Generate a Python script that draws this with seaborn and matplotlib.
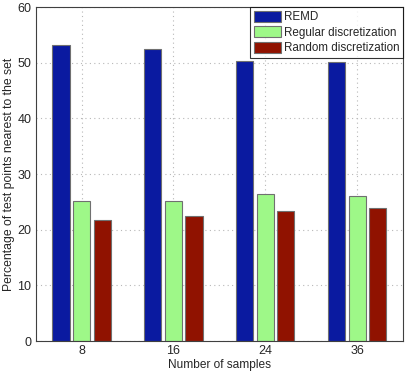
import pandas as pd
import matplotlib
matplotlib.use("Agg")
import matplotlib.pyplot as plt
import seaborn as sns

# data
samples = ["8", "16", "24", "36"]
methods = ["REMD", "Regular discretization", "Random discretization"]
remd = [53.2, 52.5, 50.4, 50.2]
regular = [25.1, 25.1, 26.4, 26.0]
random_disc = [21.8, 22.5, 23.4, 24.0]

df = pd.DataFrame({
    "samples": samples * 3,
    "method": [m for m in methods for _ in samples],
    "value": remd + regular + random_disc,
})

sns.set_style("white")
plt.rcParams["font.family"] = ["Liberation Sans", "DejaVu Sans"]

palette = {"REMD": "#0A1AA0", "Regular discretization": "#9EF888",
           "Random discretization": "#901200"}

fig = plt.figure(figsize=(4.09, 3.72), dpi=100)
ax = fig.add_axes([0.087, 0.083, 0.899, 0.898])
sns.barplot(data=df, x="samples", y="value", hue="method", order=samples,
            hue_order=methods, palette=palette, width=0.67, gap=0.17,
            edgecolor="#707070", linewidth=0.8, saturation=1, ax=ax)

ax.set_ylim(0, 60)
ax.set_xlim(-0.5, 3.5)
ax.set_yticks(range(0, 61, 10))
ax.set_xlabel("Number of samples", fontsize=8.6, labelpad=1)
ax.set_ylabel("Percentage of test points nearest to the set", fontsize=8.8, labelpad=2)
ax.tick_params(axis="both", labelsize=9, length=3, direction="in", color="#404040", pad=3)
ax.grid(True, linestyle=(0, (1, 3)), color="#b8b8b8", linewidth=0.8)
ax.set_axisbelow(True)
for s in ax.spines.values():
    s.set_color("#404040")
    s.set_linewidth(0.8)

leg = ax.legend(loc="upper right", fontsize=8.4, frameon=True, fancybox=False,
                borderaxespad=0.0, handlelength=2.3, handleheight=1.1,
                handletextpad=0.3, labelspacing=0.25, borderpad=0.3)
leg.get_frame().set_edgecolor("black")
leg.get_frame().set_linewidth(0.8)

fig.savefig("out.png", dpi=100)
